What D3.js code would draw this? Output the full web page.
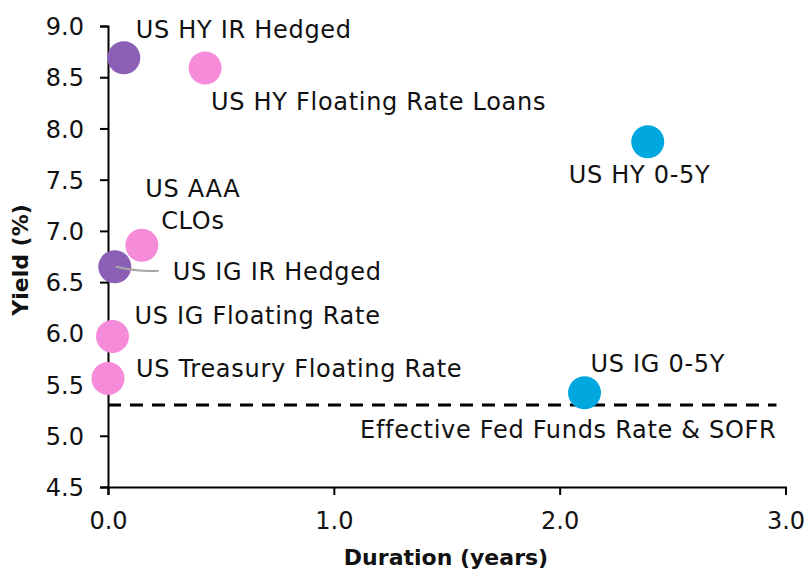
<!DOCTYPE html>
<html><head><meta charset="utf-8">
<script src="https://cdn.jsdelivr.net/npm/d3@7"></script>
<style>
html,body{margin:0;padding:0;background:#fff;}
text{font-family:"DejaVu Sans",sans-serif;}
</style></head>
<body><svg id="c" width="804" height="573"></svg>
<script>
// ---- data ----
const names = ["US HY IR Hedged","US HY Floating Rate Loans","US HY 0-5Y","US AAA CLOs","US IG IR Hedged","US IG Floating Rate","US Treasury Floating Rate","US IG 0-5Y"];
const durations = [0.07, 0.43, 2.39, 0.15, 0.03, 0.02, 0.00, 2.11];
const yields = [8.69, 8.59, 7.87, 6.86, 6.65, 5.97, 5.56, 5.42];
const groups = ["hedged","floating","short","floating","hedged","floating","floating","short"];
const refLabel = "Effective Fed Funds Rate & SOFR";
const refRate = [5.30];
const refSpan = [0, 2.96];
const xTicks = [0, 1, 2, 3];
const yTicks = [4.5, 5.0, 5.5, 6.0, 6.5, 7.0, 7.5, 8.0, 8.5, 9.0];
const xTitle = "Duration (years)";
const yTitle = "Yield (%)";

// ---- layout / style ----
const colors = {hedged:"#8C5FB7", floating:"#F68BDA", short:"#00A8DF"};
// label placement: [dx, dy, anchor] relative to point centre (px)
const labelPos = [
  [12,-20,"start"],[6,42,"start"],[-79,41,"start"],[51,-48,"middle"],
  [58,13,"start"],[22,-12,"start"],[28,-1,"start"],[6,-21,"start"]
];
const labelLines = {3:["US AAA","CLOs"]};
const FS = 24, LS = "0.7px";

const svg = d3.select("#c");
const x = d3.scaleLinear().domain([0,3]).range([108,785.5]);
const y = d3.scaleLinear().domain([4.5,9]).range([487,26]);

// axes
const xAxis = svg.append("g").attr("transform","translate(0,487)")
  .call(d3.axisBottom(x).tickValues(xTicks).tickFormat(d3.format(".1f")).tickSizeOuter(0).tickSize(8).tickPadding(17));
const yAxis = svg.append("g").attr("transform","translate(108,0)")
  .call(d3.axisLeft(y).tickValues(yTicks).tickFormat(d3.format(".1f")).tickSizeOuter(0).tickSize(8).tickPadding(16));
[xAxis,yAxis].forEach(g=>{
  g.select(".domain").attr("stroke","#000").attr("stroke-width",2);
  g.selectAll(".tick line").attr("stroke","#000").attr("stroke-width",2);
  g.selectAll(".tick text").attr("fill","#111").style("font-size","24px").style("font-family","DejaVu Sans");
});
yAxis.selectAll(".tick text").attr("dy","0.36em");

// reference line
svg.append("line")
  .attr("x1",x(refSpan[0])).attr("x2",x(refSpan[1]))
  .attr("y1",y(refRate[0])).attr("y2",y(refRate[0]))
  .attr("stroke","#000").attr("stroke-width",3).attr("stroke-dasharray","13,9");
svg.append("text").attr("x",x(refSpan[1])).attr("y",y(refRate[0])+33)
  .attr("text-anchor","end").attr("fill","#111").style("font-size",FS+"px").style("letter-spacing",LS).text(refLabel);

// points
const data = names.map((n,i)=>({n,d:durations[i],v:yields[i],g:groups[i],i}));
svg.selectAll("circle.pt").data(data).join("circle").attr("class","pt")
  .attr("cx",d=>x(d.d)).attr("cy",d=>y(d.v)).attr("r",16.5)
  .attr("fill",d=>colors[d.g]);

// leader line for US IG IR Hedged
const li = 4;
svg.append("path")
  .attr("d",`M${x(durations[li])+1},${y(yields[li])} Q${x(durations[li])+22},${y(yields[li])+5} ${x(durations[li])+44},${y(yields[li])+4}`)
  .attr("fill","none").attr("stroke","#a6a6a6").attr("stroke-width",2);

// labels
data.forEach(d=>{
  const [dx,dy,anc] = labelPos[d.i];
  const t = svg.append("text").attr("text-anchor",anc).attr("fill","#111")
    .style("font-size",FS+"px").style("letter-spacing",LS);
  const lines = labelLines[d.i] || [d.n];
  lines.forEach((s,k)=>{
    t.append("tspan").attr("x",x(d.d)+dx).attr("y",y(d.v)+dy+k*32).text(s);
  });
});

// axis titles
svg.append("text").attr("x",446).attr("y",565).attr("text-anchor","middle")
  .style("font-size","22px").style("font-weight","bold").attr("fill","#111").text(xTitle);
svg.append("text").attr("transform","translate(28,260) rotate(-90)").attr("text-anchor","middle")
  .style("font-size","22px").style("font-weight","bold").attr("fill","#111").text(yTitle);
</script></body></html>
